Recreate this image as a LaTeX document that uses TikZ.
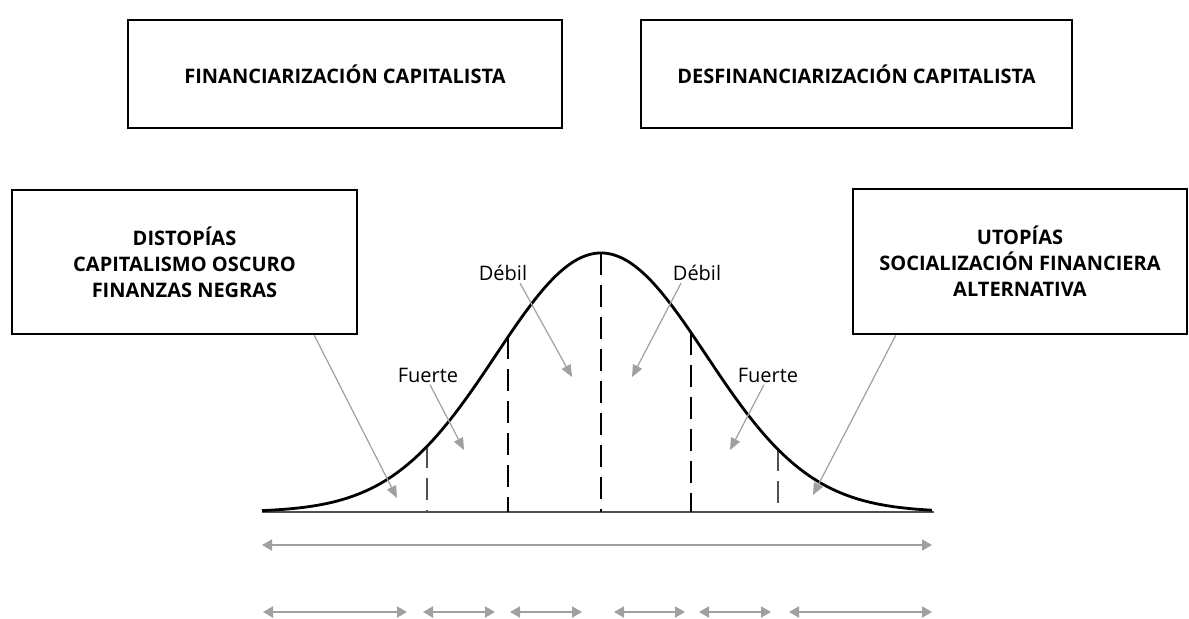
\documentclass[tikz,border=0pt]{standalone}
\usepackage{fontspec}
\setmainfont{Open Sans}
\usepackage{xcolor}
\usetikzlibrary{arrows.meta,calc}
\definecolor{arrowgray}{HTML}{A0A0A0}
\definecolor{axisgray}{HTML}{505050}

\begin{document}
\begin{tikzpicture}[x=0.5pt,y=-0.5pt,
  box/.style={draw,line width=1.2pt,align=center,font=\bfseries\fontsize{10}{13}\selectfont},
  tag/.style={font=\fontsize{10}{12}\selectfont,inner sep=1pt},
  pointer/.style={draw=arrowgray,line width=0.6pt,-{Triangle[length=6pt,width=5pt]}},
  span/.style={draw=arrowgray,line width=1pt,{Triangle[length=5pt,width=5.5pt]}-{Triangle[length=5pt,width=5.5pt]}},
  midcut/.style={line width=1pt,dash pattern=on 11pt off 5pt},
  tailcut/.style={draw=axisgray,line width=0.7pt,dash pattern=on 11pt off 5pt}]
\useasboundingbox (0,0) rectangle (1189,618);
% boxes
\node [box,minimum width=217pt,minimum height=54pt] (fin) at (345,74) {FINANCIARIZACIÓN CAPITALISTA};
\node [box,minimum width=215.5pt,minimum height=54pt] (desfin) at (856.5,74) {DESFINANCIARIZACIÓN CAPITALISTA};
\node [box,minimum width=172.5pt,minimum height=72pt] (dist) at (184.5,262) {DISTOPÍAS\\CAPITALISMO OSCURO\\FINANZAS NEGRAS};
\node [box,minimum width=167pt,minimum height=72.5pt] (utop) at (1020,261.5) {UTOPÍAS\\SOCIALIZACIÓN FINANCIERA\\ALTERNATIVA};

% bell curve
\coordinate (base0) at (262,512);
\coordinate (base1) at (934,512);
\draw [axisgray,line width=1pt] (base0) -- (base1);
\foreach \xx/\cut in {427/tailcut,508/midcut,601/midcut,691/midcut,778/tailcut}
  \draw [\cut] (\xx,{512-259*exp(-0.5*((\xx-601)/105)^2)}) -- (\xx,512);
\draw [line width=1.4pt] plot [domain=262:932,samples=120,smooth] (\x,{512-259*exp(-0.5*((\x-601)/105)^2)});

% labels
\node [tag] (debilL) at (503,273) {Débil};
\node [tag] (debilR) at (697,273) {Débil};
\node [tag] (fuerteL) at (428,375) {Fuerte};
\node [tag] (fuerteR) at (768,375) {Fuerte};
\coordinate (distTip) at (397,498);
\coordinate (fuerteLTip) at (464,450);
\coordinate (debilLTip) at (572,377);
\coordinate (debilRTip) at (632,377);
\coordinate (fuerteRTip) at (730,450);
\coordinate (utopTip) at (813,495);
\draw [pointer] ($(dist.south east)+(-44,0)$) -- (distTip);
\draw [pointer] ($(fuerteL.south)+(2,0)$) -- (fuerteLTip);
\draw [pointer] ($(debilL.south)+(17,0)$) -- (debilLTip);
\draw [pointer] ($(debilR.south)+(-16,0)$) -- (debilRTip);
\draw [pointer] ($(fuerteR.south)+(-4,0)$) -- (fuerteRTip);
\draw [pointer] ($(utop.south west)+(44,0)$) -- (utopTip);

% spans
\coordinate (all0) at (262,545);
\coordinate (all1) at (932,545);
\draw [span] (all0) -- (all1);
\foreach \a/\b [count=\i] in {263/407,423/495,510/582,614/685,699/771,789/932} {
  \coordinate (part\i a) at (\a,612);
  \coordinate (part\i b) at (\b,612);
  \draw [span] (part\i a) -- (part\i b);
}
\end{tikzpicture}
\end{document}
